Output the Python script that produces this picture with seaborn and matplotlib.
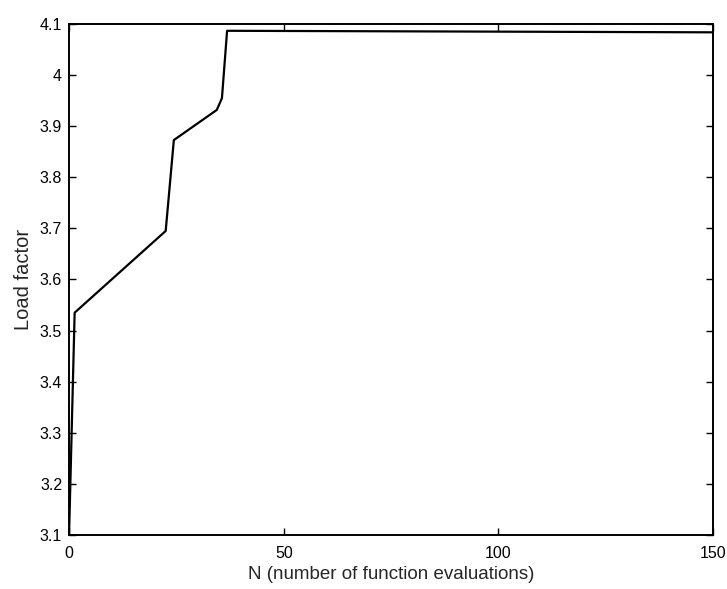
import numpy as np
import pandas as pd
import seaborn as sns
import matplotlib
matplotlib.use("Agg")
import matplotlib.pyplot as plt
from matplotlib.ticker import FuncFormatter

# values
n_evals = [0, 1.3, 22.5, 24.4, 34.4, 35.6, 36.8, 150]
load_factor = [3.1, 3.535, 3.695, 3.873, 3.932, 3.955, 4.087, 4.084]

x_ticks = [0, 50, 100, 150]
y_ticks = [3.1, 3.2, 3.3, 3.4, 3.5, 3.6, 3.7, 3.8, 3.9, 4.0, 4.1]

df = pd.DataFrame({"N": n_evals, "load": load_factor})

sns.set_style("ticks")
plt.rcParams["font.family"] = ["Liberation Sans", "DejaVu Sans"]

fig = plt.figure(figsize=(7.27, 5.89), dpi=100)
ax = fig.add_axes([0.095, 0.092, 0.886, 0.867])

sns.lineplot(data=df, x="N", y="load", color="black", linewidth=1.6, ax=ax,
             estimator=None, sort=False)

ax.set_xlim(0, 150)
ax.set_ylim(3.1, 4.1)
ax.set_xticks(x_ticks)
ax.set_yticks(y_ticks)
ax.yaxis.set_major_formatter(FuncFormatter(lambda v, p: f"{v:g}"))
ax.tick_params(direction="in", top=True, right=True, length=5, width=1,
               labelsize=11.5, colors="black")
ax.tick_params(axis="x", pad=8)
ax.tick_params(axis="y", pad=5)
for s in ax.spines.values():
    s.set_linewidth(1.4)
    s.set_color("black")

ax.set_xlabel("N (number of function evaluations)", fontsize=13.5, labelpad=4)
ax.set_ylabel("Load factor", fontsize=14.5, labelpad=5)

fig.savefig("out.png", dpi=100)
